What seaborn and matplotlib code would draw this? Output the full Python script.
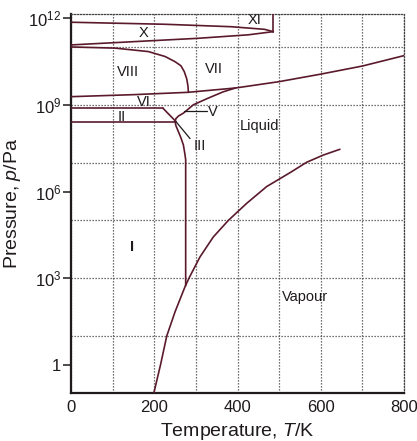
import matplotlib
matplotlib.use("Agg")
import matplotlib.pyplot as plt
import matplotlib.ticker as mticker
import seaborn as sns
import pandas as pd

sns.set_theme(style="ticks")
plt.rcParams["font.family"] = ["Liberation Sans", "DejaVu Sans"]
plt.rcParams["mathtext.fontset"] = "custom"
plt.rcParams["mathtext.rm"] = "Liberation Sans"
plt.rcParams["mathtext.it"] = "Liberation Sans:italic"

LINE = "#5a1a2c"
INK = "#1f1a1c"

# --- phase boundaries: temperature in K, log10 of pressure in Pa ---
vap_T = [199, 215, 230, 250, 274, 284, 310, 342, 378, 422, 470, 526, 566, 606, 646]
vap_logp = [-0.97, 0.00, 1.00, 1.84, 2.71, 3.02, 3.74, 4.43, 5.00, 5.59, 6.17, 6.65, 7.01, 7.26, 7.46]

# ice I melting curve running on into the III/V/VI melting curve
melt_T = [275.5, 275.5, 274, 270, 264, 258, 252, 250, 252, 258, 270, 294, 328, 366, 395]
melt_logp = [2.74, 7.10, 7.26, 7.61, 7.86, 8.07, 8.28, 8.42, 8.52, 8.61, 8.71, 9.00, 9.22, 9.45, 9.58]

# VI/VII boundary continuing as the VII melting curve
vii_T = [0, 150, 280, 395, 500, 600, 700, 800]
vii_logp = [9.28, 9.35, 9.43, 9.58, 9.80, 10.06, 10.34, 10.70]

viii_T = [0, 106, 186, 226, 250, 264, 272, 278, 281, 282]
viii_logp = [11.00, 10.96, 10.84, 10.67, 10.49, 10.35, 10.15, 9.90, 9.65, 9.43]

x_top_T = [0, 225, 385, 465, 486]
x_top_logp = [11.855, 11.785, 11.70, 11.61, 11.53]
x_bot_T = [0, 146, 306, 426, 486]
x_bot_logp = [11.07, 11.18, 11.30, 11.42, 11.53]
xi_T = [486, 486]
xi_logp = [11.53, 12.14]

ii_top_T = [0, 221]
ii_top_logp = [8.88, 8.88]
ii_bot_T = [0, 250]
ii_bot_logp = [8.42, 8.42]
ii_diag_T = [221, 252]
ii_diag_logp = [8.88, 8.42]

# leader lines for the small regions
v_ptr_T = [272, 326]
v_ptr_logp = [8.77, 8.77]
iii_ptr_T = [252, 286]
iii_ptr_logp = [8.42, 7.83]

# region labels: text, T, log10 p, horizontal alignment
labels = ["XI", "X", "VIII", "VII", "VI", "II", "V", "III", "Liquid", "I", "Vapour"]
label_T = [442, 175, 136, 344, 175, 123, 330, 294, 454, 147, 562]
label_logp = [11.93, 11.48, 10.13, 10.24, 9.08, 8.58, 8.74, 7.57, 8.27, 4.08, 2.35]
label_ha = ["center", "center", "center", "center", "center", "center", "left", "left", "center", "center", "center"]

curves = {
    "vapour": (vap_T, vap_logp),
    "melt": (melt_T, melt_logp),
    "vii": (vii_T, vii_logp),
    "viii": (viii_T, viii_logp),
    "x_top": (x_top_T, x_top_logp),
    "x_bot": (x_bot_T, x_bot_logp),
    "xi": (xi_T, xi_logp),
    "ii_top": (ii_top_T, ii_top_logp),
    "ii_bot": (ii_bot_T, ii_bot_logp),
    "ii_diag": (ii_diag_T, ii_diag_logp),
}
pointers = {
    "v_ptr": (v_ptr_T, v_ptr_logp),
    "iii_ptr": (iii_ptr_T, iii_ptr_logp),
}


def to_frame(d):
    rows = []
    for name, (ts, lps) in d.items():
        for t, lp in zip(ts, lps):
            rows.append({"curve": name, "T": t, "p": 10.0 ** lp})
    return pd.DataFrame(rows)


df_curves = to_frame(curves)
df_ptr = to_frame(pointers)

fig = plt.figure(figsize=(4.17, 4.41), dpi=100)
ax = fig.add_axes([71 / 417, 48 / 441, 333 / 417, 379 / 441])

sns.lineplot(data=df_curves, x="T", y="p", units="curve", estimator=None, sort=False,
             color=LINE, linewidth=1.2, ax=ax, zorder=3)
sns.lineplot(data=df_ptr, x="T", y="p", units="curve", estimator=None, sort=False,
             color=INK, linewidth=0.9, ax=ax, zorder=3)

ax.set_yscale("log")
ax.set_xlim(0, 800)
ax.set_ylim(10 ** -0.97, 10 ** 12.14)

# ticks and dotted grid
ax.set_xticks([0, 200, 400, 600, 800])
ax.set_xticks([100, 300, 500, 700], minor=True)
ax.set_yticks([1, 1e3, 1e6, 1e9, 1e12])
ax.set_yticklabels(["1", "$10^3$", "$10^6$", "$10^9$", "$10^{12}$"])
ax.yaxis.set_minor_locator(mticker.FixedLocator([1e1, 1e3, 1e5, 1e7, 1e9, 1e11]))
ax.yaxis.set_minor_formatter(mticker.NullFormatter())
ax.yaxis.remove_overlapping_locs = False

grid_kw = dict(color="#444444", linestyle=(0, (1, 1.4)), linewidth=0.9)
ax.xaxis.grid(True, which="both", **grid_kw)
ax.yaxis.grid(True, which="minor", **grid_kw)
ax.yaxis.grid(False, which="major")

ax.tick_params(axis="x", which="both", length=0, pad=5, labelsize=12, colors=INK)
ax.tick_params(axis="y", which="major", length=6, width=1.1, pad=1, labelsize=12, colors=INK)
ax.tick_params(axis="y", which="minor", length=0)

for side in ["left", "bottom"]:
    ax.spines[side].set_color(INK)
    ax.spines[side].set_linewidth(1.6)
for side in ["top", "right"]:
    ax.spines[side].set_color("#444444")
    ax.spines[side].set_linewidth(0.9)
    ax.spines[side].set_linestyle((0, (1, 1.4)))

ax.set_xlabel("Temperature, $\\it{T}$/K", fontsize=14, labelpad=4, color=INK)
ax.set_ylabel("Pressure, $\\it{p}$/Pa", fontsize=14, labelpad=4, color=INK)

for text, t, lp, ha in zip(labels, label_T, label_logp, label_ha):
    ax.text(t, 10.0 ** lp, text, ha=ha, va="center", fontsize=10.5, color=INK,
            fontweight="bold" if text == "I" else "normal", zorder=4)

fig.savefig("out.png", dpi=100)
